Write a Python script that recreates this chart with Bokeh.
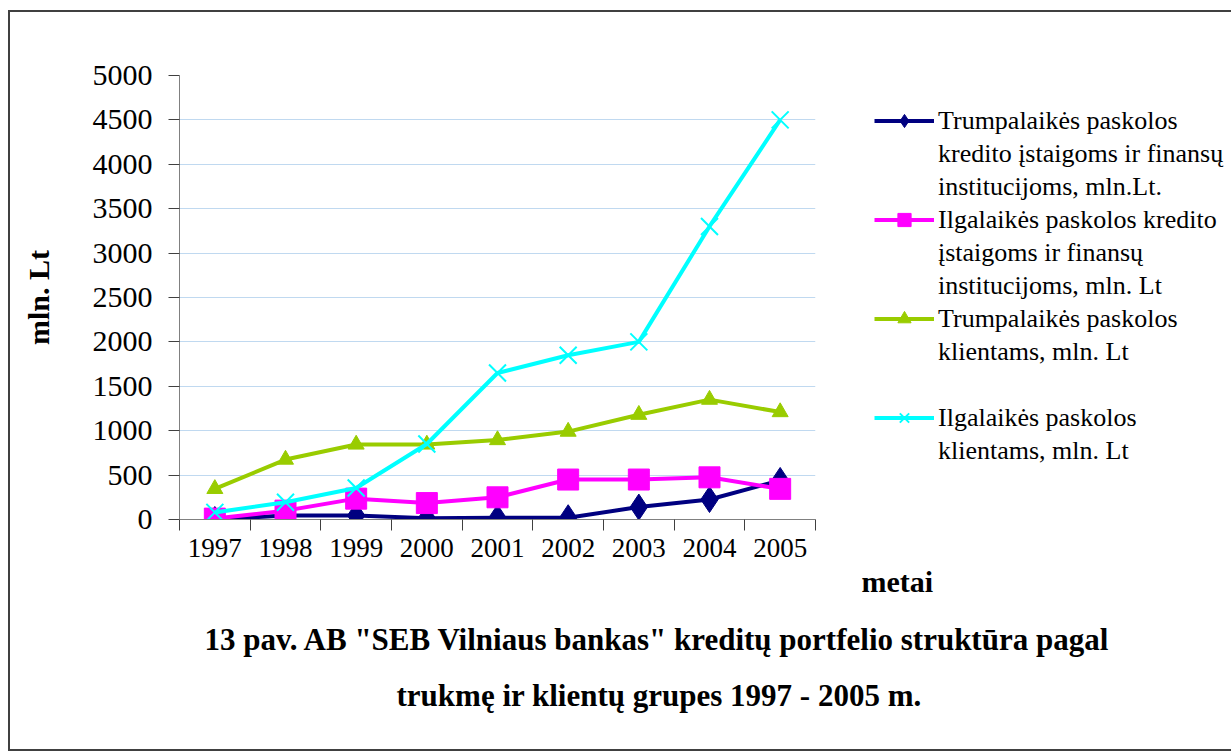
from bokeh.plotting import figure
from bokeh.models import Range1d, FixedTicker, Legend, LegendItem, Title
from bokeh.embed import file_html
from bokeh.resources import INLINE

# ---- data ----
years = [1997, 1998, 1999, 2000, 2001, 2002, 2003, 2004, 2005]
year_labels = [str(y) for y in years]
short_fin = [0, 45, 45, 15, 20, 20, 140, 225, 440]        # Trumpalaikės paskolos kredito įstaigoms
long_fin = [10, 100, 235, 185, 250, 450, 450, 475, 345]   # Ilgalaikės paskolos kredito įstaigoms
short_cli = [345, 675, 845, 845, 895, 990, 1180, 1350, 1210]  # Trumpalaikės paskolos klientams
long_cli = [80, 195, 355, 850, 1650, 1850, 2000, 3300, 4500]  # Ilgalaikės paskolos klientams
y_ticks = list(range(0, 5001, 500))

series_labels = [
    ["Trumpalaikės paskolos", "kredito įstaigoms ir finansų", "institucijoms, mln.Lt."],
    ["Ilgalaikės paskolos kredito", "įstaigoms ir finansų", "institucijoms, mln. Lt"],
    ["Trumpalaikės paskolos", "klientams, mln. Lt", " "],
    ["Ilgalaikės paskolos", "klientams, mln. Lt"],
]
title_lines = [
    '13 pav. AB "SEB Vilniaus bankas" kreditų portfelio struktūra pagal',
    'trukmę ir klientų grupes 1997 - 2005 m.',
]
x_title = "metai"
y_title = "mln. Lt"

FONT = "Liberation Serif"
C_NAVY = "#000080"
C_MAG = "#FF00FF"
C_GREEN = "#99CC00"
C_CYAN = "#00FFFF"

p = figure(frame_width=636, frame_height=444, output_backend="svg", toolbar_location=None,
           x_range=Range1d(years[0] - 0.5, years[-1] + 0.5),
           y_range=Range1d(0, 5000),
           min_border_left=169, min_border_top=63, min_border_right=412, min_border_bottom=230,
           margin=(10, 0, 0, 8),
           styles={"border": "2px solid #404040"})
p.outline_line_color = None
p.background_fill_color = "white"
p.border_fill_color = "white"

# grid
p.xgrid.visible = False
p.ygrid.ticker = FixedTicker(ticks=y_ticks[1:-1])
p.ygrid.grid_line_color = "#C0D9F0"
p.ygrid.grid_line_width = 1

# y axis
p.yaxis.ticker = FixedTicker(ticks=y_ticks)
p.yaxis.axis_line_color = "#808080"
p.yaxis.major_tick_line_color = "#404040"
p.yaxis.major_tick_out = 11
p.yaxis.major_tick_in = 0
p.yaxis.minor_tick_line_color = None
p.yaxis.major_label_text_font = FONT
p.yaxis.major_label_text_font_size = "30px"
p.yaxis.major_label_text_color = "black"
p.yaxis.major_label_standoff = 16
p.yaxis.axis_label = y_title
p.yaxis.axis_label_text_font = FONT
p.yaxis.axis_label_text_font_style = "bold"
p.yaxis.axis_label_text_font_size = "30px"
p.yaxis.axis_label_text_color = "black"
p.yaxis.axis_label_standoff = 35

# x axis: labels at category centres, ticks at category boundaries
bounds = [y - 0.5 for y in years] + [years[-1] + 0.5]
p.xaxis.ticker = FixedTicker(ticks=years, minor_ticks=bounds)
p.xaxis.major_label_overrides = {y: s for y, s in zip(years, year_labels)}
p.xaxis.axis_line_color = "#808080"
p.xaxis.major_tick_line_color = None
p.xaxis.major_tick_out = 0
p.xaxis.major_tick_in = 0
p.xaxis.minor_tick_line_color = "#404040"
p.xaxis.minor_tick_out = 11
p.xaxis.minor_tick_in = 0
p.xaxis.major_label_text_font = FONT
p.xaxis.major_label_text_font_size = "27px"
p.xaxis.major_label_text_color = "black"
p.xaxis.major_label_standoff = 8

# series
LW = 4
r1l = p.line(years, short_fin, line_color=C_NAVY, line_width=LW)
r1m = p.scatter(years, short_fin, marker="diamond", size=26, fill_color=C_NAVY, line_color=C_NAVY)
r2l = p.line(years, long_fin, line_color=C_MAG, line_width=LW)
r2m = p.scatter(years, long_fin, marker="square", size=21, fill_color=C_MAG, line_color=C_MAG)
r3l = p.line(years, short_cli, line_color=C_GREEN, line_width=LW)
r3m = p.scatter(years, short_cli, marker="triangle", size=16, fill_color=C_GREEN, line_color=C_GREEN)
r4l = p.line(years, long_cli, line_color=C_CYAN, line_width=LW)
r4m = p.scatter(years, long_cli, marker="x", size=24, line_color=C_CYAN, line_width=2)

series_renderers = [[r1l, r1m], [r2l, r2m], [r3l, r3m], [r4l, r4m]]
items = []
for lines, rends in zip(series_labels, series_renderers):
    items.append(LegendItem(label=lines[0], renderers=rends))
    for extra in lines[1:]:
        items.append(LegendItem(label=extra, renderers=[]))

legend = Legend(items=items, location=(59, 52))
legend.label_text_font = FONT
legend.label_text_font_size = "26px"
legend.label_text_color = "black"
legend.glyph_width = 60
legend.glyph_height = 33
legend.label_height = 33
legend.label_standoff = 4
legend.spacing = 0
legend.padding = 0
legend.margin = 0
legend.border_line_color = None
legend.background_fill_alpha = 0
p.add_layout(legend, "right")

# "metai" axis title and figure caption, below the x axis
p.add_layout(Title(text=x_title, align="left", offset=682, text_font=FONT, text_color="black",
                   text_font_size="30px", text_font_style="bold", standoff=7), "below")
for line, off, so, lh in zip(title_lines, [25, 217], [37, 0], [1.2, 0.9]):
    p.add_layout(Title(text=line, align="left", offset=off, text_font=FONT, text_color="black",
                       text_font_size="31px", text_font_style="bold", standoff=so,
                       text_line_height=lh), "below")

open("out.html", "w").write(file_html(p, INLINE))
